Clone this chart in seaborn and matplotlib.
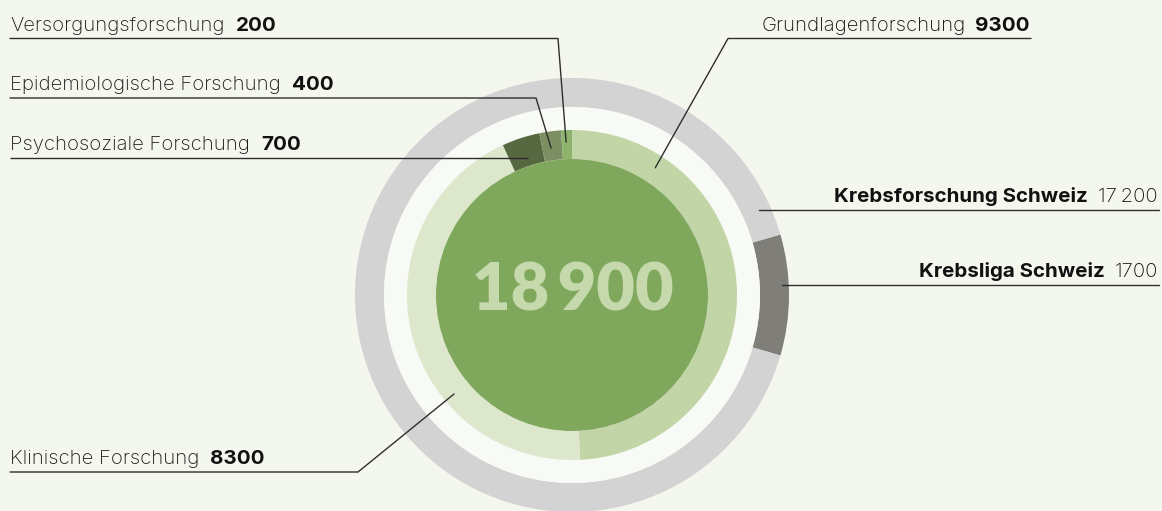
import numpy as np
import matplotlib
matplotlib.use("Agg")
import matplotlib.pyplot as plt
import seaborn as sns

# ---------------- data ----------------
inner_labels = ["Grundlagenforschung", "Klinische Forschung", "Psychosoziale Forschung",
                "Epidemiologische Forschung", "Versorgungsforschung"]
inner_values = [9300, 8300, 700, 400, 200]
inner_value_text = ["9300", "8300", "700", "400", "200"]

outer_labels = ["Krebsliga Schweiz", "Krebsforschung Schweiz"]
outer_values = [1700, 17200]
outer_value_text = ["1700", "17\u2009200"]

total_text = "18\u2009900"

# ---------------- style ----------------
BG = "#f4f7ee"
GAP = "#f8faf5"
inner_colors = ["#c2d5a6", "#dde7cc", "#566840", "#7b8f63", "#8db36c"]
outer_colors = ["#7f7e79", "#d3d3d3"]
CENTER = "#80a85c"
CENTER_TXT = "#c6d9ad"
LINE = "#2e2e2e"

sns.set_theme(style="white")
plt.rcParams["font.family"] = ["Inter", "DejaVu Sans"]

W, H = 1162, 511
fig = plt.figure(figsize=(W / 100, H / 100), dpi=100, facecolor=BG)
ax = fig.add_axes([0, 0, 1, 1])
ax.set_facecolor(BG)

CX, CY_PX = 572, 295
CY = H - CY_PX
R_OUT, R_OUT_IN = 217, 188
R_IN, R_IN_IN = 165, 136

def Y(py):
    return H - py

total = sum(outer_values)
outer_start = outer_values[0] / total * 180.0

ax.pie(outer_values, colors=outer_colors, radius=R_OUT, center=(CX, CY),
       startangle=outer_start, counterclock=False, frame=True,
       wedgeprops=dict(width=R_OUT - R_OUT_IN, edgecolor="none", linewidth=0))
ax.pie([1], colors=[GAP], radius=R_OUT_IN, center=(CX, CY), frame=True,
       wedgeprops=dict(width=R_OUT_IN - R_IN, edgecolor="none", linewidth=0))
ax.pie(inner_values, colors=inner_colors, radius=R_IN, center=(CX, CY),
       startangle=90, counterclock=False, frame=True,
       wedgeprops=dict(width=R_IN - R_IN_IN, edgecolor="none", linewidth=0))
ax.pie([1], colors=[CENTER], radius=R_IN_IN, center=(CX, CY), frame=True,
       wedgeprops=dict(edgecolor="none", linewidth=0))

ax.set_xlim(0, W)
ax.set_ylim(0, H)
ax.set_aspect("equal", adjustable="box")
ax.axis("off")

ax.text(CX + 1, Y(291), total_text, ha="center", va="center", fontsize=48,
        family=["Lato", "DejaVu Sans"], fontweight="heavy", color=CENTER_TXT)

# ---------------- labels / leader lines (layout) ----------------
# (name, value text, side, line_y_px, elbow_x_px or None, anchor angle cw from top, anchor radius, bold label?)
layout = [
    (inner_labels[4], inner_value_text[4], "left", 38.5, 558, 357.8, 153, False),
    (inner_labels[3], inner_value_text[3], "left", 98, 536, 351.9, 148.5, False),
    (inner_labels[2], inner_value_text[2], "left", 158, None, 342.2, 144, False),
    (inner_labels[1], inner_value_text[1], "left", 472, 358, 230.0, 154, False),
    (inner_labels[0], inner_value_text[0], "right_g", 38.5, 728, 33.2, 152, False),
    (outer_labels[1], outer_value_text[1], "right", 210, None, 65.6, 205, True),
    (outer_labels[0], outer_value_text[0], "right", 285, None, 87.3, 210, True),
]

fig.canvas.draw()
renderer = fig.canvas.get_renderer()
FS = 14.6
FSB = 14.8

for name, val, side, ly, ex, ang, rad, bold_label in layout:
    th = np.deg2rad(ang)
    axp = CX + rad * np.sin(th)
    ayp = CY_PX - rad * np.cos(th)
    base = Y(ly - 8)
    if side == "left":
        t = ax.text(10, base, name, ha="left", va="baseline", fontsize=FS,
                    fontweight="light", color="#1a1a1a")
        bb = t.get_window_extent(renderer)
        ax.text(bb.x1 + 11, base, val, ha="left", va="baseline", fontsize=FSB,
                fontweight="bold", color="#111111")
        if ex is None:
            ax.plot([10, axp], [Y(ly), Y(ly)], color=LINE, lw=1.0, solid_capstyle="butt")
        else:
            ax.plot([10, ex, axp], [Y(ly), Y(ly), Y(ayp)], color=LINE, lw=1.0)
    else:
        right = 1030 if side == "right_g" else 1158
        line_r = 1031 if side == "right_g" else 1159
        t = ax.text(right, base, val, ha="right", va="baseline",
                    fontsize=(FS if bold_label else FSB),
                    fontweight=("light" if bold_label else "bold"), color="#111111")
        bb = t.get_window_extent(renderer)
        ax.text(bb.x0 - 10, base, name, ha="right", va="baseline",
                fontsize=(FSB if bold_label else FS),
                fontweight=("bold" if bold_label else "light"), color="#111111")
        if ex is None:
            ax.plot([line_r, axp], [Y(ly), Y(ly)], color=LINE, lw=1.0)
        else:
            ax.plot([line_r, ex, axp], [Y(ly), Y(ly), Y(ayp)], color=LINE, lw=1.0)

fig.savefig("out.png", dpi=100, facecolor=BG)
